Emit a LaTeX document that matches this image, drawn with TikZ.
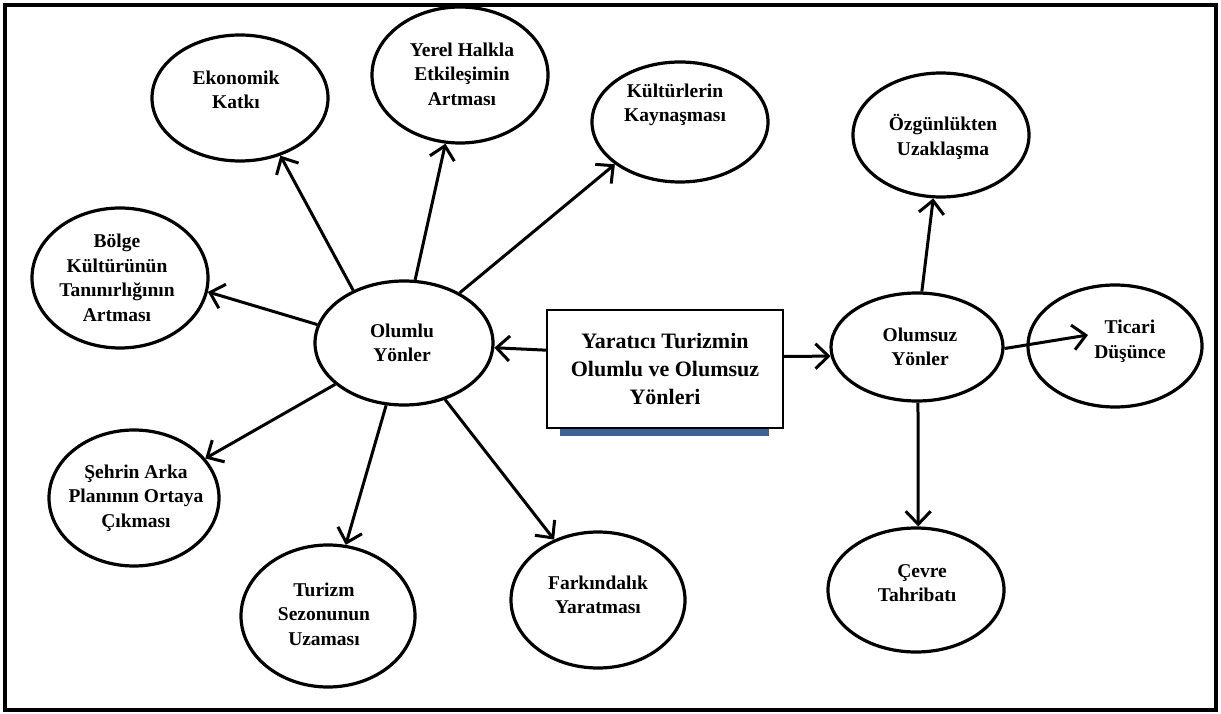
\documentclass[tikz,border=0pt]{standalone}
\usepackage{fontspec}
\setmainfont{Liberation Serif}
\usetikzlibrary{arrows.meta,shapes.geometric}
\definecolor{barblue}{RGB}{64,98,146}
\begin{document}
\begin{tikzpicture}[x=1pt,y=-1pt,
  oval/.style={draw, ellipse, line width=3.2pt, inner sep=0pt, fill=white},
  lbl/.style={align=center, font=\fontsize{19.5}{24.5}\selectfont\bfseries, inner sep=0pt},
  arr/.style={line width=3pt, -{Straight Barb[length=13pt,width=25pt]}},
  frame/.style={line width=3.8pt},
]
\useasboundingbox (0,0) rectangle (1221,714);
\draw[frame] (5,5) rectangle (1216,710);

% ellipses
\node[oval, minimum width=176pt, minimum height=126pt] (ekon) at (240,98) {};
\node[lbl] (ekont) at (236,90) {Ekonomik\\Katkı};
\node[oval, minimum width=176pt, minimum height=136pt] (yerel) at (460,75) {};
\node[lbl] (yerelt) at (462,74) {Yerel Halkla\\Etkileşimin\\Artması};
\node[oval, minimum width=176pt, minimum height=120pt] (kult) at (680,122) {};
\node[lbl] (kultt) at (675,105) {Kültürlerin\\Kaynaşması};
\node[oval, minimum width=176pt, minimum height=124pt] (ozgun) at (941,135) {};
\node[lbl] (ozgunt) at (943,137) {Özgünlükten\\Uzaklaşma};
\node[oval, minimum width=176pt, minimum height=140pt] (bolge) at (120,278) {};
\node[lbl] (bolget) at (117,278) {Bölge\\Kültürünün\\Tanınırlığının\\Artması};
\node[oval, minimum width=178pt, minimum height=124pt] (olumlu) at (404,343) {};
\node[lbl] (olumlut) at (402,343) {Olumlu\\Yönler};
\node[oval, minimum width=172pt, minimum height=108pt] (olumsuz) at (917,347) {};
\node[lbl] (olumsuzt) at (920,347) {Olumsuz\\Yönler};
\node[oval, minimum width=174pt, minimum height=122pt] (ticari) at (1115,346) {};
\node[lbl] (ticarit) at (1130,341) {Ticari\\Düşünce};
\node[oval, minimum width=176pt, minimum height=124pt] (cevre) at (916,590) {};
\node[lbl] (cevret) at (917,583) {\hspace*{10pt}Çevre\\Tahribatı};
\node[oval, minimum width=170pt, minimum height=136pt] (sehir) at (134,498) {};
\node[lbl] (sehirt) at (136,498) {Şehrin Arka\\Planının Ortaya\\Çıkması};
\node[oval, minimum width=174pt, minimum height=142pt] (turizm) at (328,616) {};
\node[lbl] (turizmt) at (324,614) {Turizm\\Sezonunun\\Uzaması};
\node[oval, minimum width=174pt, minimum height=136pt] (fark) at (598,600) {};
\node[lbl] (farkt) at (598,595) {Farkındalık\\Yaratması};

% central box
\fill[barblue] (560,428) rectangle (769,436);
\node[draw, fill=white, line width=1.8pt, minimum width=236pt, minimum height=118pt, inner sep=0pt,
      align=center, font=\fontsize{22}{28}\selectfont\bfseries] (box) at (665,369)
      {Yaratıcı Turizmin\\Olumlu ve Olumsuz\\Yönleri};

\coordinate (tictip) at (1088,335);

% arrows
\draw[arr] (olumlu.134) -- (ekon.-55);
\draw[arr] (olumlu.80) -- (yerel.-102);
\draw[arr] (olumlu.42) -- (kult.-147);
\draw[arr] (olumlu.168) -- (bolge.-9.5);
\draw[arr] (olumlu.-149) -- (sehir.29);
\draw[arr] (olumlu.-106) -- (turizm.76);
\draw[arr] (olumlu.-54) -- (fark.126);
\draw[arr] (box.171) -- (olumlu.-3);
\draw[arr] (box.6) -- (olumsuz.186);
\draw[arr] (olumsuz.85) -- (ozgun.-97);
\draw[arr] (olumsuz.-1) -- (tictip);
\draw[arr] (olumsuz.-89) -- (cevre.88);
\end{tikzpicture}
\end{document}
